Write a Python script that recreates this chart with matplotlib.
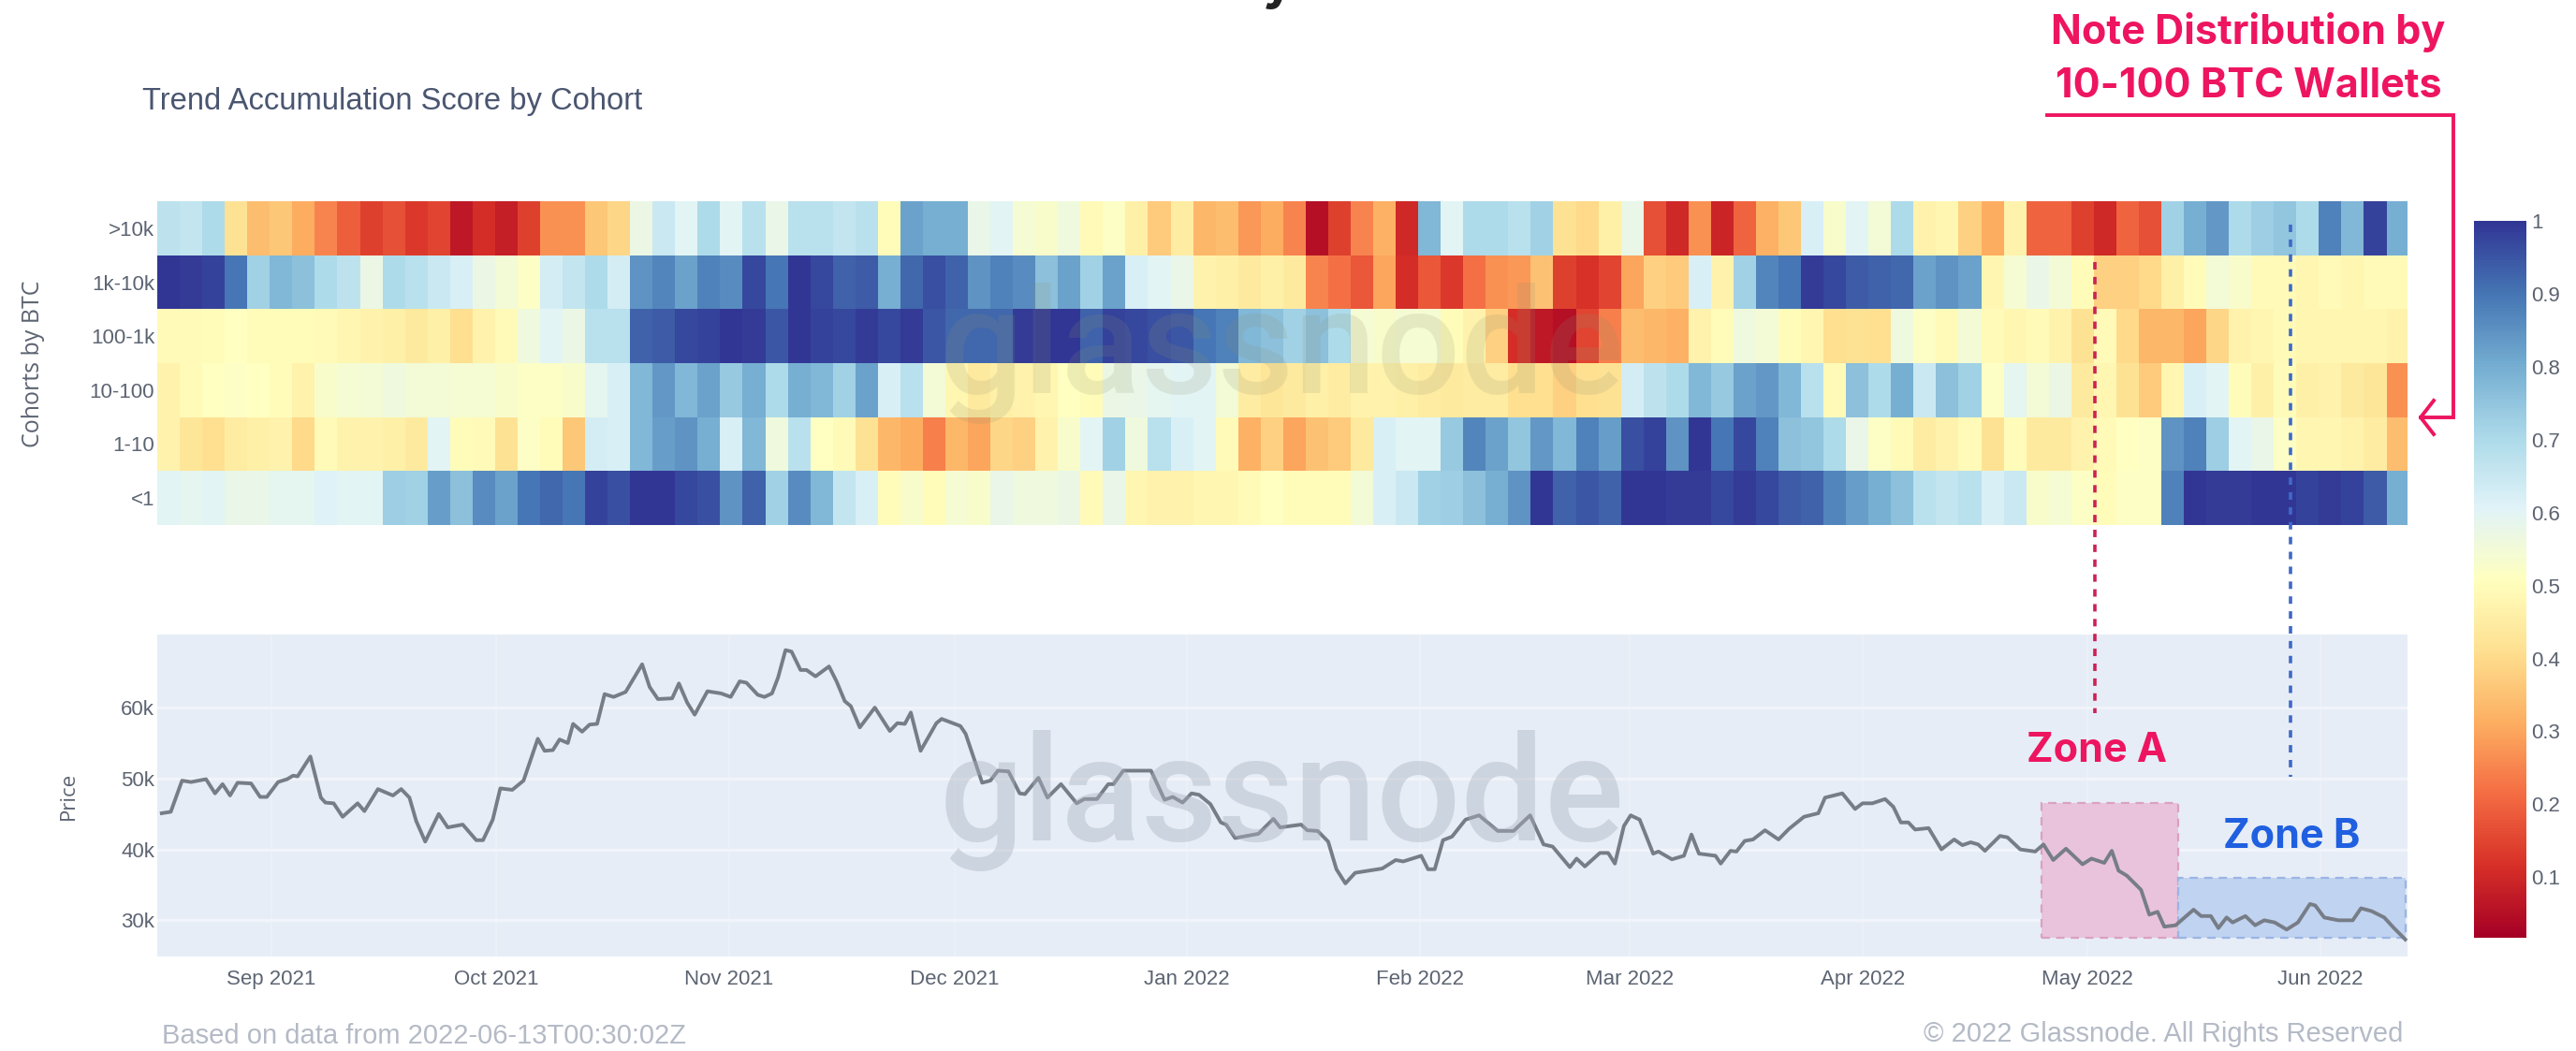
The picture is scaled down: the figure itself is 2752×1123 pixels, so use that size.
#!/usr/bin/env python

import numpy as np
import matplotlib
matplotlib.use('Agg')
import matplotlib.pyplot as plt
import matplotlib.dates as mdates
from matplotlib.patches import Rectangle

W, H = 2752, 1123

cohorts = ['>10k', '1k-10k', '100-1k', '10-100', '1-10', '<1']

# score per cohort, one value per 3 days, starting mid Aug 2021
score_10k = [
    .67, .66, .70, .42, .34, .36, .31, .25, .19, .14, .17, .13, .15, .07, .11, .08, .14, .27, .27, .36,
    .39, .57, .65, .60, .70, .60, .68, .58, .68, .68, .66, .68, .50, .82, .80, .80, .58, .60, .54, .53,
    .56, .49, .52, .46, .37, .45, .33, .34, .28, .31, .25, .05, .14, .25, .32, .10, .78, .60, .70, .70,
    .68, .72, .42, .40, .46, .58, .17, .10, .27, .09, .20, .32, .36, .62, .53, .60, .55, .70, .47, .48,
    .38, .31, .47, .20, .20, .14, .10, .20, .17, .72, .80, .84, .70, .73, .75, .70, .88, .78, .98, .80]
score_1k = [
    1.0, .99, .98, .90, .72, .78, .76, .70, .67, .57, .70, .68, .65, .62, .57, .55, .52, .63, .66, .70,
    .63, .85, .87, .82, .88, .86, .97, .90, 1.0, .97, .93, .94, .80, .92, .96, .93, .85, .88, .86, .76,
    .82, .72, .82, .62, .60, .58, .47, .46, .44, .46, .44, .25, .22, .18, .30, .11, .18, .13, .22, .27,
    .28, .35, .14, .12, .15, .30, .38, .37, .62, .47, .72, .87, .90, .99, .97, .94, .93, .92, .82, .85,
    .82, .48, .54, .58, .55, .50, .38, .38, .40, .46, .50, .55, .53, .49, .49, .48, .49, .48, .49, .49]
score_100 = [
    .49, .49, .50, .51, .50, .50, .50, .49, .48, .47, .46, .44, .46, .41, .47, .49, .56, .60, .57, .68,
    .68, .93, .94, .97, .98, 1.0, .99, .95, 1.0, .98, .97, .99, .97, .99, .95, .92, .92, .92, .99, 1.0,
    1.0, .93, .98, .97, .96, .95, .90, .88, .78, .76, .72, .76, .70, .54, .53, .54, .54, .50, .47, .38,
    .11, .07, .05, .15, .24, .34, .33, .32, .47, .50, .56, .55, .50, .48, .41, .42, .41, .56, .52, .49,
    .55, .49, .48, .49, .47, .42, .49, .40, .33, .33, .30, .39, .47, .48, .49, .48, .48, .48, .48, .47]
score_10 = [
    .47, .49, .51, .52, .51, .50, .47, .53, .54, .55, .56, .55, .55, .54, .54, .53, .52, .52, .53, .59,
    .62, .78, .84, .78, .82, .74, .80, .70, .80, .78, .72, .82, .62, .68, .55, .48, .44, .46, .47, .48,
    .51, .50, .57, .58, .59, .60, .60, .55, .45, .43, .44, .46, .45, .47, .47, .46, .45, .44, .45, .45,
    .41, .41, .38, .41, .42, .63, .67, .70, .78, .74, .82, .84, .78, .68, .49, .76, .70, .80, .65, .76,
    .72, .52, .59, .55, .57, .44, .48, .42, .37, .48, .62, .60, .50, .46, .50, .46, .47, .44, .43, .27]
score_1 = [
    .47, .43, .41, .45, .46, .47, .40, .49, .47, .47, .46, .44, .60, .50, .49, .42, .52, .50, .36, .63,
    .62, .78, .83, .85, .80, .62, .78, .56, .68, .51, .49, .42, .33, .31, .24, .33, .30, .39, .38, .47,
    .53, .60, .72, .56, .68, .62, .60, .49, .32, .38, .30, .35, .37, .44, .62, .60, .60, .74, .87, .82,
    .75, .84, .78, .88, .83, .96, .98, .85, 1.0, .90, .97, .88, .76, .75, .70, .58, .52, .49, .45, .47,
    .49, .42, .50, .44, .44, .47, .49, .51, .52, .85, .88, .73, .60, .58, .52, .48, .48, .47, .45, .34]
score_lt1 = [
    .60, .59, .60, .58, .58, .59, .59, .61, .60, .60, .73, .72, .83, .76, .86, .82, .90, .92, .90, .98,
    .96, 1.0, 1.0, .97, .96, .85, .93, .72, .86, .78, .66, .62, .50, .53, .50, .54, .53, .58, .56, .56,
    .57, .49, .58, .48, .47, .47, .48, .48, .49, .51, .50, .50, .50, .55, .62, .65, .72, .73, .76, .80,
    .85, 1.0, .93, .95, .93, 1.0, 1.0, .99, .99, .97, .99, .97, .94, .93, .87, .83, .80, .76, .68, .66,
    .68, .62, .65, .53, .54, .52, .50, .52, .52, .88, 1.0, .99, .99, 1.0, 1.0, .98, .99, .98, .94, .80]

# price in k USD, at days counted from the left edge of the chart
price_days = [
    0.6, 1.8, 3.3, 4.5, 6.5, 7.7, 8.7, 9.7, 10.7, 12.5, 13.7, 14.6, 16.1, 17.3, 18.1, 18.7, 20.4, 21.8, 22.4, 23.5,
    24.7, 26.7, 27.6, 29.4, 31.4, 32.5, 33.6, 34.5, 35.7, 37.5, 38.7, 40.7, 42.5, 43.4, 44.7, 45.7, 47.3, 48.8, 50.7, 51.6,
    52.7, 53.6, 54.7, 55.4, 56.6, 57.6, 58.6, 59.6, 60.8, 62.4, 64.6, 65.6, 66.7, 68.6, 69.5, 70.6, 71.6, 73.3, 75.1, 76.4,
    77.6, 78.5, 80.0, 80.9, 81.9, 82.7, 83.7, 84.5, 85.7, 86.5, 87.7, 89.5, 90.5, 91.6, 92.4, 93.6, 95.6, 97.6, 98.6, 99.6,
    100.4, 101.7, 103.8, 104.5, 107.0, 107.7, 109.9, 111.0, 112.0, 113.4, 114.9, 115.6, 117.4, 118.6, 120.4, 122.5, 123.5, 125.2, 126.7, 127.4,
    128.7, 132.4, 134.2, 135.3, 136.6, 137.8, 138.8, 140.3, 141.7, 142.4, 143.6, 146.7, 148.7, 149.6, 152.4, 153.2, 154.6, 156.0, 157.1, 158.3,
    159.6, 163.2, 165.0, 166.0, 168.4, 169.3, 170.2, 171.3, 172.5, 174.3, 176.1, 178.6, 180.7, 182.9, 184.7, 185.9, 188.2, 189.1, 190.2, 192.2,
    193.3, 194.2, 195.4, 196.3, 197.5, 199.3, 200.0, 201.8, 203.4, 204.4, 205.4, 207.6, 208.3, 209.6, 210.4, 211.5, 212.6, 214.2, 216.0, 217.4,
    219.4, 221.3, 222.2, 224.5, 226.2, 227.2, 228.5, 230.2, 231.3, 232.3, 233.3, 234.2, 236.0, 237.7, 239.4, 240.5, 241.6, 242.6, 243.5, 245.5,
    246.5, 248.2, 250.2, 251.3, 252.6, 254.3, 256.5, 257.7, 259.4, 260.4, 261.3, 262.4, 264.3, 265.4, 266.5, 267.4, 268.9, 271.3, 272.3, 273.6,
    274.6, 275.7, 276.5, 278.2, 279.5, 280.7, 282.1, 283.7, 285.2, 286.8, 287.5, 288.7, 290.6, 292.5, 293.6, 295.0, 296.7, 298.0, 299.5]
price_k = [
    45.1, 45.3, 49.7, 49.5, 49.9, 47.9, 49.2, 47.6, 49.4, 49.3, 47.4, 47.4, 49.5, 49.9, 50.4, 50.3, 53.1, 47.3, 46.6, 46.5,
    44.6, 46.5, 45.4, 48.5, 47.6, 48.5, 47.3, 44.0, 41.1, 45.0, 43.1, 43.5, 41.3, 41.3, 44.2, 48.6, 48.4, 49.7, 55.6, 53.9,
    54.0, 55.5, 55.0, 57.7, 56.6, 57.6, 57.7, 61.9, 61.5, 62.2, 66.1, 62.9, 61.2, 61.3, 63.4, 60.7, 59.0, 62.3, 62.0, 61.5,
    63.7, 63.5, 61.8, 61.5, 62.0, 64.2, 68.1, 67.9, 65.3, 65.3, 64.4, 65.8, 63.7, 60.9, 60.2, 57.2, 60.0, 56.7, 57.8, 57.7,
    59.3, 53.9, 57.8, 58.4, 57.4, 56.3, 49.4, 49.7, 51.1, 51.0, 47.9, 47.8, 50.1, 47.3, 49.2, 46.5, 47.1, 47.1, 49.2, 49.2,
    51.1, 51.1, 47.0, 47.4, 46.6, 47.9, 47.7, 46.4, 43.8, 43.5, 41.6, 42.2, 44.3, 43.1, 43.5, 42.7, 42.6, 41.1, 37.2, 35.2,
    36.7, 37.3, 38.5, 38.3, 39.1, 37.2, 37.2, 41.3, 41.8, 44.2, 44.8, 42.6, 42.6, 44.8, 40.7, 40.4, 37.5, 38.7, 37.6, 39.5,
    39.5, 38.0, 43.3, 44.8, 44.2, 39.4, 39.7, 38.6, 39.1, 42.1, 39.4, 39.1, 38.0, 39.8, 39.7, 41.2, 41.4, 42.7, 41.4, 42.9,
    44.6, 45.1, 47.3, 47.9, 45.7, 46.5, 46.5, 47.1, 46.0, 43.8, 43.8, 42.8, 43.0, 40.0, 41.4, 40.6, 41.0, 40.7, 39.8, 41.9,
    41.7, 40.0, 39.7, 40.7, 38.5, 40.1, 37.9, 38.7, 38.1, 39.8, 37.0, 36.3, 34.3, 30.8, 31.2, 29.1, 29.3, 31.5, 30.6, 30.6,
    28.9, 30.4, 29.7, 30.6, 29.3, 30.0, 29.7, 28.7, 29.7, 32.3, 32.1, 30.4, 30.0, 30.0, 31.7, 31.3, 30.4, 28.9, 27.3]

price_ticks = [30, 40, 50, 60]
price_labels = ['30k', '40k', '50k', '60k']
color_ticks = [.1, .2, .3, .4, .5, .6, .7, .8, .9, 1]
color_labels = ['0.1', '0.2', '0.3', '0.4', '0.5', '0.6', '0.7', '0.8', '0.9', '1']

# day boundaries of the zones, and their price bounds
zone_a = (251.1, 269.3, 27.5, 46.6)
zone_b = (269.3, 299.6, 27.5, 36.0)

PINK = '#ee1560'
BLUE = '#1f5fe0'
GREY = '#5c6472'

plt.rcParams['font.family'] = ['Liberation Sans', 'DejaVu Sans']


def box(x0, y0, x1, y1):
    return [x0/W, 1 - y1/H, (x1 - x0)/W, (y1 - y0)/H]


start = mdates.date2num(np.datetime64('2021-08-17')) - 0.2
end = start + 299.8

fig = plt.figure(figsize=(W/100, H/100), dpi=100, facecolor='white')

# heatmap
ax = fig.add_axes(box(168, 215, 2572, 561))
scores = np.array([score_10k, score_1k, score_100, score_10, score_1, score_lt1])
x_edges = start + 3*np.arange(scores.shape[1] + 1)
y_edges = np.arange(scores.shape[0] + 1)
mesh = ax.pcolormesh(x_edges, y_edges, scores, cmap='RdYlBu', vmin=0.017, vmax=1)
ax.set_xlim(start, end)
ax.set_ylim(6, 0)
ax.set_yticks(np.arange(6) + .5, cohorts)
ax.set_xticks([])
ax.tick_params(axis='y', length=0, pad=2, labelsize=16, labelcolor=GREY)
for s in ax.spines.values():
    s.set_visible(False)

# price
ax2 = fig.add_axes(box(168, 678, 2572, 1022), facecolor='#e6edf6')
ax2.grid(True, axis='y', color='#f1f4fa', lw=2.4)
ax2.grid(True, axis='x', color='#edf1f8', lw=1.4)
ax2.set_axisbelow(True)
ax2.plot(start + np.array(price_days), price_k, color='#777d87', lw=2.8, zorder=4,
         solid_joinstyle='round')
ax2.set_xlim(start, end)
ax2.set_ylim(24.9, 70.3)
ax2.set_yticks(price_ticks, price_labels)
ax2.xaxis.set_major_locator(mdates.MonthLocator())
ax2.xaxis.set_major_formatter(mdates.DateFormatter('%b %Y'))
ax2.tick_params(length=0, labelsize=16, labelcolor=GREY)
ax2.tick_params(axis='y', pad=2)
ax2.tick_params(axis='x', pad=10)
for s in ax2.spines.values():
    s.set_visible(False)

for zone, fc, ec in [(zone_a, '#e9c3dc', '#dba0c2'), (zone_b, '#c0d3f0', '#9ab4e4')]:
    ax2.add_patch(Rectangle((start + zone[0], zone[2]), zone[1] - zone[0], zone[3] - zone[2],
                            facecolor=fc, edgecolor=ec, lw=1.6, ls=(0, (4, 3)), zorder=3))

# colorbar
cax = fig.add_axes(box(2643, 236, 2699, 1002))
cb = fig.colorbar(mesh, cax=cax, ticks=color_ticks)
cb.ax.set_yticklabels(color_labels)
cb.ax.tick_params(length=0, pad=4, labelsize=16, labelcolor=GREY)
cb.outline.set_visible(False)

# everything laid over the panels is placed in picture pixels
over = fig.add_axes([0, 0, 1, 1], facecolor='none')
over.set_xlim(0, W)
over.set_ylim(H, 0)
over.axis('off')

over.text(1370, 420, 'glassnode', fontsize=114, family='Roboto', weight='medium', ha='center', va='baseline',
          color='#8c8f70', alpha=.16)
over.text(1370, 898, 'glassnode', fontsize=114, family='Roboto', weight='medium', ha='center', va='baseline',
          color='#aab2c0', alpha=.42, zorder=1)

over.text(152, 108, 'Trend Accumulation Score by Cohort', fontsize=23.6, color='#4a5670', va='center')
over.text(36, 389, 'Cohorts by BTC', fontsize=18, family='Open Sans', color=GREY,
          rotation=90, ha='center', va='center')
over.text(73, 850, 'Price', fontsize=16, family='Open Sans', color=GREY,
          rotation=90, ha='center', va='center')
over.text(173, 1107, 'Based on data from 2022-06-13T00:30:02Z', fontsize=21, color='#b4bac6', va='center')
over.text(2567, 1105, '© 2022 Glassnode. All Rights Reserved', fontsize=21, color='#b4bac6',
          ha='right', va='center')

over.text(1365, -16, 'y', fontsize=40, family='Inter', weight='bold', color='#222222', ha='center', va='center')

over.text(2402, 35, 'Note Distribution by', fontsize=31, family='Inter', weight='bold',
          color=PINK, ha='center', va='center')
over.text(2402, 92, '10-100 BTC Wallets', fontsize=31, family='Inter', weight='bold',
          color=PINK, ha='center', va='center')
over.plot([2187, 2621, 2621, 2586], [122.5, 122.5, 446, 446], color=PINK, lw=2.8, solid_joinstyle='miter')
over.plot([2600, 2586, 2600], [428, 446, 464], color=PINK, lw=2.8)

over.plot([2238, 2238], [280, 762], color='#cc2055', lw=2.6, ls=(0, (2.2, 2.2)))
over.plot([2447, 2447], [240, 830], color='#3f69c8', lw=2.6, ls=(0, (2.2, 2.2)))

over.text(2240, 803, 'Zone A', fontsize=31, family='Inter', weight='bold', color=PINK, ha='center', va='center')
over.text(2448, 895, 'Zone B', fontsize=31, family='Inter', weight='bold', color=BLUE, ha='center', va='center')

plt.savefig('out.png', dpi=100)
